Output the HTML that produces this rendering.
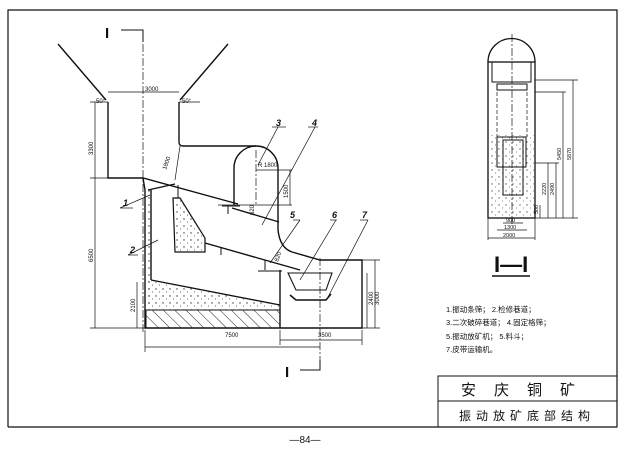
<!DOCTYPE html>
<html><head><meta charset="utf-8"><style>
body{margin:0;background:#fff}
svg{display:block}
text{font-family:"Liberation Sans","Noto Sans CJK SC",sans-serif;fill:#111}
</style></head><body>
<svg width="640" height="454" viewBox="0 0 640 454" xmlns="http://www.w3.org/2000/svg">
<defs>
<pattern id="dots" width="7" height="7" patternUnits="userSpaceOnUse"><circle cx="2" cy="2" r="0.7" fill="#333"/><circle cx="5.5" cy="5" r="0.5" fill="#333"/></pattern>
<pattern id="hatch" width="8" height="8" patternUnits="userSpaceOnUse" patternTransform="rotate(-45)"><line x1="0" y1="0" x2="0" y2="8" stroke="#222" stroke-width="1"/></pattern>
</defs>
<rect width="640" height="454" fill="#fff"/>
<!-- frame -->
<polyline points="8,427 8,10 617,10 617,427" fill="none" stroke="#111" stroke-width="1.2"/>
<line x1="8" y1="427" x2="617" y2="427" stroke="#111" stroke-width="1.2"/>
<!-- title block -->
<rect x="438" y="376" width="179" height="51" fill="none" stroke="#111" stroke-width="1"/>
<line x1="438" y1="401" x2="617" y2="401" stroke="#111"/>
<text x="527" y="395" font-size="15" text-anchor="middle" letter-spacing="18">安庆铜矿</text>
<text x="527" y="420" font-size="12" text-anchor="middle" letter-spacing="5">振动放矿底部结构</text>
<text x="305" y="443" font-size="10" text-anchor="middle">—84—</text>

<g fill="none" stroke="#111" stroke-width="1.4">
<!-- hopper -->
<line x1="58" y1="44" x2="106" y2="100"/>
<line x1="228" y1="44" x2="180" y2="100"/>
<path d="M108,102 V178 H143 L238,204"/>
<path d="M179,102 V142 Q179,146 183,146 H256"/>
<path d="M234,205 V168 A22,22 0 0 1 278,168 V230 Q280,248 292,252 L320,260 H362 V328 H145 V190"/>
<line x1="143" y1="178" x2="145" y2="190"/>
<line x1="151" y1="190" x2="151" y2="280"/>
<line x1="148" y1="190" x2="175" y2="184"/>
<line x1="232" y1="208" x2="279" y2="222"/>
<line x1="205" y1="243" x2="300" y2="270"/>
<line x1="280" y1="270" x2="280" y2="328"/>
<line x1="151" y1="280" x2="280" y2="305"/>
</g>
<polygon points="173,198 180,198 205,238 205,252 175,252" fill="url(#dots)" stroke="#111" stroke-width="1.2"/>
<polygon points="146,280 280,305 280,310 146,310" fill="url(#dots)" stroke="none"/>
<rect x="146" y="189" width="5" height="121" fill="url(#dots)"/>
<rect x="146" y="310" width="134" height="18" fill="url(#hatch)" stroke="#111" stroke-width="1"/>
<!-- hopper 6 & conveyor 7 -->
<path d="M288,273 H332 L326,290 H296 Z" fill="none" stroke="#111" stroke-width="1.1"/>
<path d="M290,295 L296,300 H326 L331,294" fill="none" stroke="#111" stroke-width="1.5"/>
<!-- supports -->
<g stroke="#111" stroke-width="1"><line x1="178" y1="185" x2="178" y2="198"/><line x1="228" y1="205" x2="228" y2="214"/><line x1="222" y1="206" x2="240" y2="206"/><line x1="221" y1="247" x2="221" y2="255"/><line x1="265" y1="260" x2="265" y2="270"/><line x1="258" y1="271" x2="282" y2="271"/></g>
<!-- centerlines -->
<g stroke="#111" stroke-width="0.7" stroke-dasharray="8,2,2,2" fill="none">
<line x1="143" y1="44" x2="143" y2="332"/>
<line x1="320" y1="258" x2="320" y2="370"/>
<line x1="256" y1="150" x2="256" y2="205"/>
</g>
<!-- section markers -->
<text x="105" y="38" font-size="15" font-family="Liberation Serif" font-weight="bold">I</text>
<polyline points="121,30 143,30 143,42" fill="none" stroke="#111"/>
<text x="285" y="377" font-size="15" font-family="Liberation Serif" font-weight="bold">I</text>
<polyline points="300,370 320,370 320,360" fill="none" stroke="#111"/>
<!-- dimension lines -->
<g stroke="#111" stroke-width="0.7" fill="none">
<line x1="95" y1="102" x2="95" y2="328"/><line x1="90" y1="102" x2="108" y2="102"/><line x1="90" y1="178" x2="108" y2="178"/><line x1="90" y1="328" x2="145" y2="328"/>
<line x1="108" y1="92" x2="179" y2="92"/>
<line x1="179" y1="102" x2="200" y2="102"/>
<line x1="137" y1="282" x2="137" y2="328"/>
<line x1="145" y1="347" x2="320" y2="347"/><line x1="145" y1="330" x2="145" y2="352"/>
<line x1="280" y1="340" x2="362" y2="340"/><line x1="280" y1="330" x2="280" y2="345"/><line x1="362" y1="330" x2="362" y2="345"/>
<line x1="375" y1="260" x2="375" y2="328"/><line x1="362" y1="260" x2="380" y2="260"/>
<line x1="367" y1="273" x2="367" y2="328"/><line x1="362" y1="328" x2="380" y2="328"/>
<line x1="290" y1="170" x2="290" y2="205"/><line x1="256" y1="170" x2="292" y2="170"/>
<line x1="218" y1="205" x2="292" y2="205"/>
<line x1="175" y1="180" x2="180" y2="146"/>
<line x1="120" y1="208" x2="150" y2="195"/><line x1="120" y1="208" x2="133" y2="208"/>
<line x1="128" y1="255" x2="158" y2="240"/><line x1="128" y1="255" x2="138" y2="255"/>
<line x1="278" y1="127" x2="258" y2="165"/><line x1="272" y1="127" x2="286" y2="127"/>
<line x1="315" y1="127" x2="262" y2="225"/><line x1="308" y1="127" x2="318" y2="127"/>
<line x1="300" y1="220" x2="270" y2="263"/><line x1="293" y1="220" x2="300" y2="220"/>
<line x1="336" y1="220" x2="300" y2="280"/><line x1="330" y1="220" x2="337" y2="220"/>
<line x1="368" y1="220" x2="328" y2="297"/><line x1="360" y1="220" x2="368" y2="220"/>
</g>
<g font-size="6">
<text x="145" y="91">3000</text><text x="96" y="103">50°</text><text x="182" y="103">50°</text>
<text x="93" y="155" transform="rotate(-90 93 155)">3300</text>
<text x="93" y="262" transform="rotate(-90 93 262)">6500</text>
<text x="135" y="312" transform="rotate(-90 135 312)">2100</text>
<text x="225" y="337">7500</text><text x="318" y="337">3500</text>
<text x="373" y="305" transform="rotate(-90 373 305)">2400</text>
<text x="379" y="305" transform="rotate(-90 379 305)">3000</text>
<text x="258" y="167">R 1800</text>
<text x="288" y="198" transform="rotate(-90 288 198)">1500</text>
<text x="166" y="170" transform="rotate(-70 166 170)">1800</text>
<text x="254" y="215" transform="rotate(-90 254 215)">620</text>
<text x="278" y="262" transform="rotate(-70 278 262)">820</text>
</g>
<g font-size="9" font-style="italic" font-weight="bold">
<text x="123" y="206">1</text><text x="130" y="253">2</text><text x="276" y="126">3</text><text x="312" y="126">4</text><text x="290" y="218">5</text><text x="332" y="218">6</text><text x="362" y="218">7</text>
</g>

<!-- section I-I -->
<g fill="none" stroke="#111" stroke-width="1.3">
<path d="M488,62 A23.5,23.5 0 0 1 535,62"/>
<rect x="488" y="62" width="47" height="156"/>
<rect x="492" y="62" width="39" height="20" stroke-width="1"/>
<rect x="497" y="84" width="30" height="6" stroke-width="1"/>
<rect x="497" y="137" width="29" height="30" stroke-width="1"/>
<rect x="503" y="140" width="20" height="55" stroke-width="1"/>
</g>
<rect x="489" y="135" width="45" height="82" fill="url(#dots)" opacity="0.8"/>
<g stroke="#111" stroke-width="0.7" fill="none">
<line x1="497" y1="92" x2="497" y2="137" stroke-dasharray="4,2"/>
<line x1="527" y1="92" x2="527" y2="137" stroke-dasharray="4,2"/>
<line x1="512" y1="34" x2="512" y2="225" stroke-dasharray="8,2,2,2"/>
<line x1="573" y1="80" x2="573" y2="218"/><line x1="535" y1="80" x2="578" y2="80"/>
<line x1="563" y1="92" x2="563" y2="218"/><line x1="535" y1="92" x2="566" y2="92"/>
<line x1="556" y1="163" x2="556" y2="218"/><line x1="535" y1="163" x2="559" y2="163"/>
<line x1="548" y1="163" x2="548" y2="218"/>
<line x1="540" y1="205" x2="540" y2="218"/>
<line x1="535" y1="218" x2="578" y2="218"/>
<line x1="503" y1="223" x2="523" y2="223"/><line x1="497" y1="230" x2="527" y2="230"/><line x1="488" y1="238" x2="535" y2="238"/>
<line x1="488" y1="218" x2="488" y2="240"/><line x1="535" y1="218" x2="535" y2="240"/>
</g>
<g font-size="5.5">
<text x="571" y="160" transform="rotate(-90 571 160)">5870</text>
<text x="561" y="160" transform="rotate(-90 561 160)">5450</text>
<text x="554" y="195" transform="rotate(-90 554 195)">2490</text>
<text x="546" y="195" transform="rotate(-90 546 195)">2220</text>
<text x="538" y="214" transform="rotate(-90 538 214)">500</text>
<text x="506" y="222">900</text><text x="504" y="229">1300</text><text x="503" y="237">2000</text>
</g>
<text x="494" y="272" font-size="22" font-family="Liberation Serif" font-weight="bold">I—I</text>
<line x1="492" y1="276" x2="530" y2="276" stroke="#111" stroke-width="1.5"/>
<g font-size="7.5">
<text x="446" y="312">1.振动条筛；  2.检修巷道；</text>
<text x="446" y="325">3.二次破碎巷道；  4.固定格筛；</text>
<text x="446" y="339">5.振动放矿机；  5.料斗；</text>
<text x="446" y="352">7.皮带运输机。</text>
</g>
</svg>
</body></html>
